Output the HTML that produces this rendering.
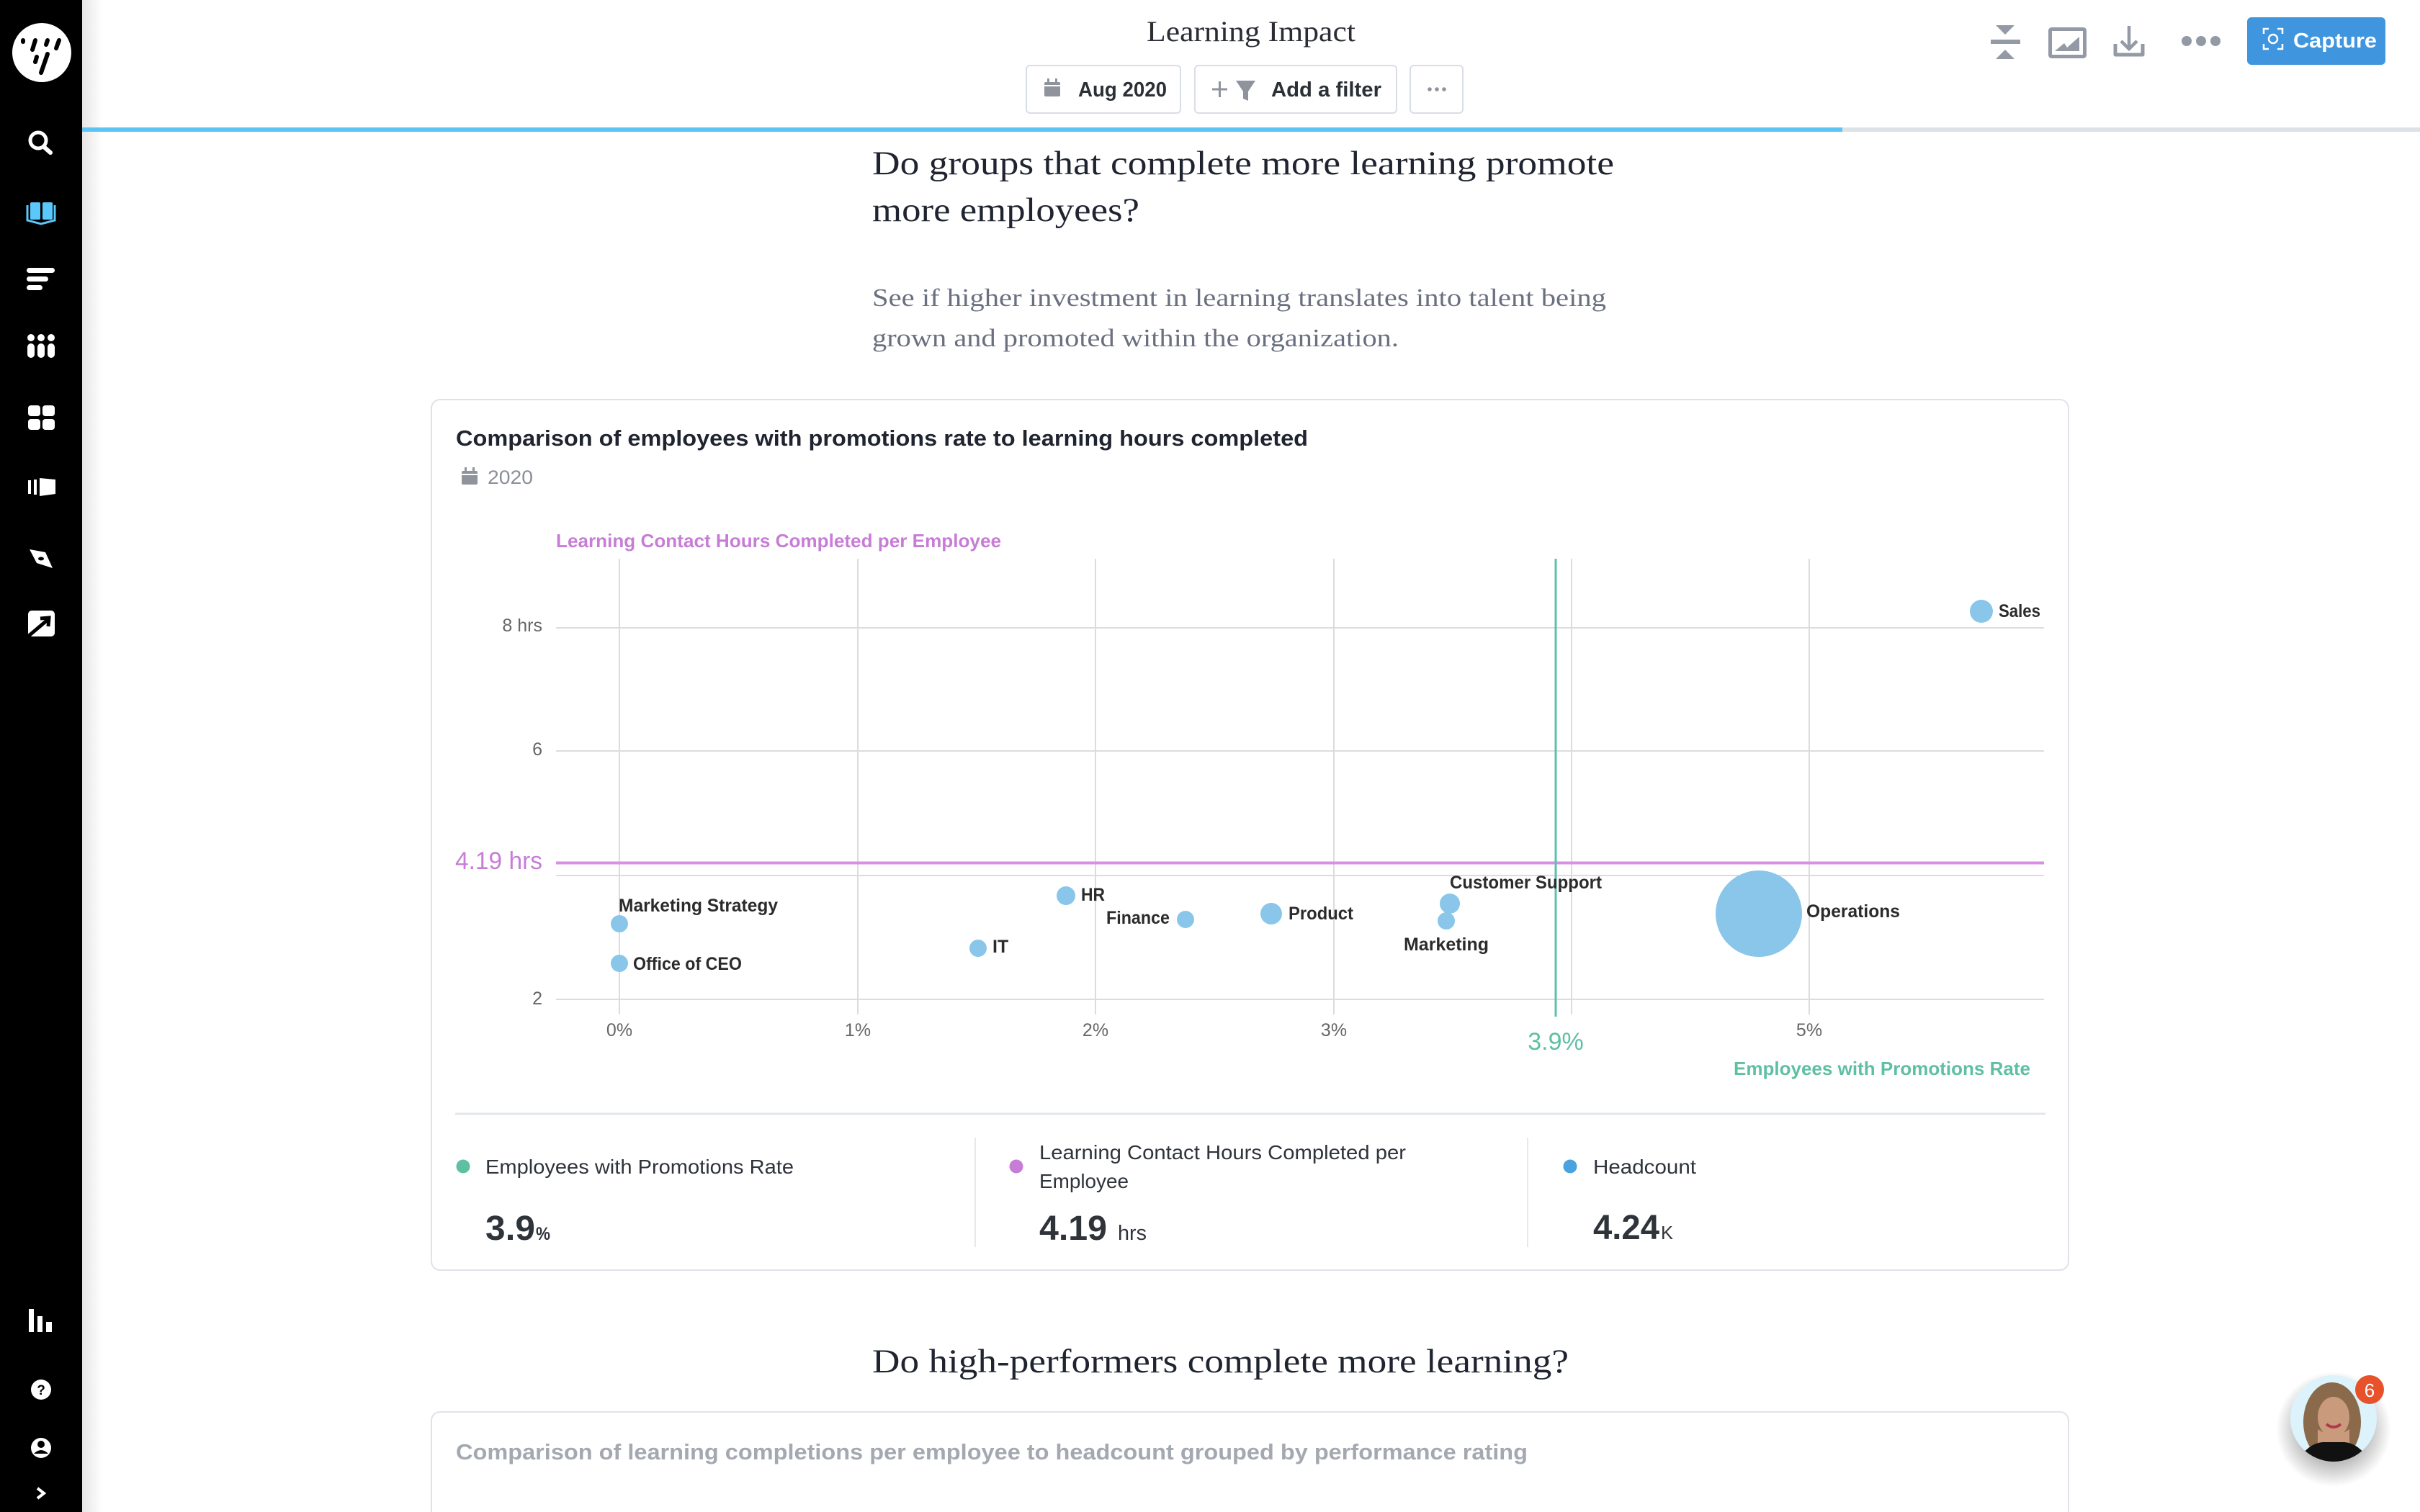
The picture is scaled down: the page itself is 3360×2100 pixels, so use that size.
<!DOCTYPE html>
<html><head><meta charset="utf-8"><style>
html,body{margin:0;padding:0;background:#fff;}
svg{display:block;}
.s{font-family:"Liberation Sans",sans-serif;}
.r{font-family:"Liberation Serif",serif;}
</style></head><body>
<svg width="3360" height="2100" viewBox="0 0 3360 2100" xmlns="http://www.w3.org/2000/svg">
<defs>
<linearGradient id="sh" x1="0" x2="1" y1="0" y2="0"><stop offset="0" stop-color="#000" stop-opacity="0.10"/><stop offset="1" stop-color="#000" stop-opacity="0"/></linearGradient>
<radialGradient id="avsh" cx="0.5" cy="0.5" r="0.5"><stop offset="0.6" stop-color="#000" stop-opacity="0.25"/><stop offset="1" stop-color="#000" stop-opacity="0"/></radialGradient>
<clipPath id="avc"><circle cx="3240" cy="1970" r="60"/></clipPath>
</defs>
<rect width="3360" height="2100" fill="#fff"/>

<!-- sidebar -->
<rect x="0" y="0" width="114" height="2100" fill="#000"/>
<rect x="114" y="0" width="28" height="2100" fill="url(#sh)"/>
<circle cx="58" cy="73" r="41" fill="#fff"/>
<g stroke="#000" stroke-width="6" stroke-linecap="round">
<line x1="32" y1="56" x2="32" y2="58"/>
<line x1="49" y1="56" x2="45" y2="69"/>
<line x1="66" y1="56" x2="64" y2="62"/>
<line x1="82" y1="56" x2="78" y2="67"/>
<line x1="51" y1="79" x2="49" y2="86"/>
<line x1="66" y1="75" x2="57" y2="101"/>
</g>
<!-- search -->
<circle cx="53" cy="195" r="11" fill="none" stroke="#fff" stroke-width="5"/>
<line x1="61" y1="204" x2="70" y2="212" stroke="#fff" stroke-width="6" stroke-linecap="round"/>
<!-- book -->
<g fill="#5ac8fa"><rect x="42" y="281" width="14" height="24" rx="2"/><rect x="59" y="281" width="14" height="24" rx="2"/></g>
<path d="M38 285 V306 L57 311 L76 306 V285" fill="none" stroke="#5ac8fa" stroke-width="3"/>
<!-- lines -->
<g fill="#fff"><rect x="37" y="372" width="39" height="7" rx="3.5"/><rect x="37" y="384" width="30" height="7" rx="3.5"/><rect x="37" y="396" width="22" height="7" rx="3.5"/></g>
<!-- dots -->
<g fill="#fff"><circle cx="43" cy="469" r="5"/><circle cx="57" cy="469" r="5"/><circle cx="71" cy="469" r="5"/>
<rect x="38" y="477" width="10" height="20" rx="5"/><rect x="52" y="477" width="10" height="20" rx="5"/><rect x="66" y="477" width="10" height="20" rx="5"/></g>
<!-- grid -->
<g fill="#fff"><rect x="39" y="563" width="17" height="15" rx="4"/><rect x="59" y="563" width="17" height="15" rx="4"/><rect x="39" y="582" width="17" height="15" rx="4"/><rect x="59" y="582" width="17" height="15" rx="4"/></g>
<!-- panel -->
<g fill="#fff"><rect x="39" y="667" width="4" height="19"/><rect x="47" y="666" width="4" height="21"/><path d="M55 664 L77 666 V686 L55 689 Z"/></g>
<!-- pen -->
<path d="M41 763 L63 767 L73 789 L51 782 Z" fill="#fff"/><ellipse cx="57" cy="776" rx="4" ry="2.5" fill="#000"/>
<!-- arrow box -->
<rect x="39" y="848" width="37" height="36" rx="5" fill="#fff"/>
<path d="M40 883 L66 861 M56 859 L68 858 L67 870" stroke="#000" stroke-width="5" fill="none"/>
<!-- bottom icons -->
<g fill="#fff"><rect x="40" y="1818" width="7" height="32"/><rect x="52" y="1828" width="7" height="22"/><rect x="64" y="1836" width="8" height="14"/></g>
<circle cx="57" cy="1930" r="14" fill="#fff"/><text x="57" y="1937" text-anchor="middle" class="s" font-size="19" font-weight="700" fill="#000">?</text>
<circle cx="57" cy="2011" r="14" fill="#fff"/><circle cx="57" cy="2006" r="5" fill="#000"/><path d="M47 2019 Q57 2009 67 2019 Z" fill="#000"/>
<path d="M52 2067 L61 2074 L52 2081" stroke="#fff" stroke-width="4" fill="none"/>

<!-- header -->
<text x="1592" y="57" class="r" font-size="40" fill="#2a2d33" textLength="290" lengthAdjust="spacingAndGlyphs">Learning Impact</text>
<rect x="1425" y="91" width="214" height="66" rx="5" fill="#fff" stroke="#d9dee5" stroke-width="2"/>
<g fill="#8e939c"><rect x="1450" y="114" width="22" height="20" rx="2"/><rect x="1454" y="109" width="3" height="6"/><rect x="1465" y="109" width="3" height="6"/></g>
<rect x="1450" y="118" width="22" height="2" fill="#fff"/>
<text x="1497" y="134" class="s" font-size="29" font-weight="700" fill="#2b2f36" textLength="123" lengthAdjust="spacingAndGlyphs">Aug 2020</text>
<rect x="1659" y="91" width="280" height="66" rx="5" fill="#fff" stroke="#d9dee5" stroke-width="2"/>
<path d="M1683 124 H1704 M1693.5 113 V135" stroke="#8e939c" stroke-width="3"/>
<path d="M1716 112 H1743 L1733 127 V140 L1726 137 V127 Z" fill="#8e939c"/>
<text x="1765" y="134" class="s" font-size="29" font-weight="700" fill="#2b2f36" textLength="153" lengthAdjust="spacingAndGlyphs">Add a filter</text>
<rect x="1958" y="91" width="73" height="66" rx="5" fill="#fff" stroke="#d9dee5" stroke-width="2"/>
<g fill="#8e939c"><circle cx="1985" cy="124" r="2.8"/><circle cx="1995" cy="124" r="2.8"/><circle cx="2005" cy="124" r="2.8"/></g>

<!-- right icons -->
<g fill="#939aa5">
<path d="M2771 35 H2797 L2784 48 Z"/><rect x="2764" y="55" width="41" height="6"/><path d="M2771 82 H2797 L2784 69 Z"/>
</g>
<rect x="2846.5" y="40.5" width="48" height="38" rx="2" fill="none" stroke="#939aa5" stroke-width="5"/>
<path d="M2853 71 L2866 60 L2870 66 L2887 51 V71 Z" fill="#939aa5"/>
<path d="M2937 61 V76 H2975 V61" fill="none" stroke="#939aa5" stroke-width="5" stroke-linejoin="round"/>
<path d="M2956 36 V68 M2945 57 L2956 68 L2967 57" fill="none" stroke="#939aa5" stroke-width="4.5"/>
<g fill="#939aa5"><circle cx="3036" cy="57" r="7"/><circle cx="3056" cy="57" r="7"/><circle cx="3076" cy="57" r="7"/></g>
<rect x="3120" y="24" width="192" height="66" rx="6" fill="#3f95de"/>
<path d="M3143 47 V40 H3150 M3162 40 H3169 V47 M3169 61 V68 H3162 M3150 68 H3143 V61" fill="none" stroke="#fff" stroke-width="2.5"/>
<circle cx="3156" cy="54" r="6" fill="none" stroke="#fff" stroke-width="2.5"/>
<text x="3184" y="66" class="s" font-size="29" font-weight="700" fill="#fff" textLength="116" lengthAdjust="spacingAndGlyphs">Capture</text>

<!-- progress -->
<rect x="114" y="177" width="3246" height="6" fill="#dde2e8"/>
<rect x="114" y="177" width="2444" height="6" fill="#5bc4f5"/>

<!-- heading -->
<text x="1211" y="242" class="r" font-size="47" fill="#1f2430" textLength="1030" lengthAdjust="spacingAndGlyphs">Do groups that complete more learning promote</text>
<text x="1211" y="307" class="r" font-size="47" fill="#1f2430" textLength="371" lengthAdjust="spacingAndGlyphs">more employees?</text>
<text x="1211" y="425" class="r" font-size="35" fill="#6b7080" textLength="1019" lengthAdjust="spacingAndGlyphs">See if higher investment in learning translates into talent being</text>
<text x="1211" y="481" class="r" font-size="35" fill="#6b7080" textLength="731" lengthAdjust="spacingAndGlyphs">grown and promoted within the organization.</text>

<!-- card -->
<rect x="599" y="555" width="2273" height="1209" rx="12" fill="#fff" stroke="#dfe3e9" stroke-width="2"/>
<text x="633" y="619" class="s" font-size="31" font-weight="700" fill="#1f2430" textLength="1183" lengthAdjust="spacingAndGlyphs">Comparison of employees with promotions rate to learning hours completed</text>
<g fill="#8e939c"><rect x="641" y="654" width="22" height="19" rx="2"/><rect x="645" y="649" width="3" height="6"/><rect x="656" y="649" width="3" height="6"/></g>
<rect x="641" y="658" width="22" height="2" fill="#fff"/>
<text x="677" y="672" class="s" font-size="27" fill="#8a8f99" textLength="63" lengthAdjust="spacingAndGlyphs">2020</text>

<!-- chart -->
<text x="772" y="760" class="s" font-size="26" font-weight="700" fill="#c77dd6" textLength="618" lengthAdjust="spacingAndGlyphs">Learning Contact Hours Completed per Employee</text>
<g stroke="#dcdcdc" stroke-width="2">
<line x1="772" y1="872" x2="2838" y2="872"/>
<line x1="772" y1="1043" x2="2838" y2="1043"/>
<line x1="772" y1="1216" x2="2838" y2="1216"/>
<line x1="772" y1="1388" x2="2838" y2="1388"/>
<line x1="860" y1="776" x2="860" y2="1409"/>
<line x1="1191" y1="776" x2="1191" y2="1409"/>
<line x1="1521" y1="776" x2="1521" y2="1409"/>
<line x1="1852" y1="776" x2="1852" y2="1409"/>
<line x1="2182" y1="776" x2="2182" y2="1409"/>
<line x1="2512" y1="776" x2="2512" y2="1409"/>
</g>
<g class="s" font-size="25" fill="#666" text-anchor="end">
<text x="753" y="877">8 hrs</text>
<text x="753" y="1049">6</text>
<text x="753" y="1395">2</text>
</g>
<g class="s" font-size="25" fill="#666" text-anchor="middle">
<text x="860" y="1439">0%</text>
<text x="1191" y="1439">1%</text>
<text x="1521" y="1439">2%</text>
<text x="1852" y="1439">3%</text>
<text x="2512" y="1439">5%</text>
</g>
<line x1="772" y1="1198.5" x2="2838" y2="1198.5" stroke="#d98fe5" stroke-width="4"/>
<text x="753" y="1207" class="s" font-size="34" fill="#c77dd6" text-anchor="end" textLength="121" lengthAdjust="spacingAndGlyphs">4.19 hrs</text>
<line x1="2160" y1="776" x2="2160" y2="1412" stroke="#5cc0ac" stroke-width="3"/>
<text x="2160" y="1458" class="s" font-size="34" fill="#5fbfa3" text-anchor="middle">3.9%</text>
<text x="2407" y="1493" class="s" font-size="26" font-weight="700" fill="#5fbfa3" textLength="412" lengthAdjust="spacingAndGlyphs">Employees with Promotions Rate</text>

<g fill="#89c6ea">
<circle cx="860" cy="1283" r="12"/>
<circle cx="860" cy="1338" r="12"/>
<circle cx="1358" cy="1317" r="12"/>
<circle cx="1480" cy="1244" r="13"/>
<circle cx="1646" cy="1277" r="12"/>
<circle cx="1765" cy="1269" r="15"/>
<circle cx="2013" cy="1255" r="14"/>
<circle cx="2008" cy="1279" r="12"/>
<circle cx="2442" cy="1269" r="60"/>
<circle cx="2751" cy="849" r="16"/>
</g>
<g class="s" font-size="25" font-weight="700" fill="#2b2b2b">
<text x="859" y="1266" textLength="221" lengthAdjust="spacingAndGlyphs">Marketing Strategy</text>
<text x="879" y="1347" textLength="151" lengthAdjust="spacingAndGlyphs">Office of CEO</text>
<text x="1378" y="1323">IT</text>
<text x="1501" y="1251" textLength="33" lengthAdjust="spacingAndGlyphs">HR</text>
<text x="1624" y="1283" text-anchor="end" textLength="88" lengthAdjust="spacingAndGlyphs">Finance</text>
<text x="1789" y="1277" textLength="90" lengthAdjust="spacingAndGlyphs">Product</text>
<text x="2013" y="1234" textLength="211" lengthAdjust="spacingAndGlyphs">Customer Support</text>
<text x="1949" y="1320" textLength="118" lengthAdjust="spacingAndGlyphs">Marketing</text>
<text x="2508" y="1274" textLength="130" lengthAdjust="spacingAndGlyphs">Operations</text>
<text x="2775" y="857" textLength="58" lengthAdjust="spacingAndGlyphs">Sales</text>
</g>

<!-- KPI -->
<line x1="632" y1="1547" x2="2840" y2="1547" stroke="#e3e7ec" stroke-width="3"/>
<line x1="1354" y1="1580" x2="1354" y2="1732" stroke="#e6e8ec" stroke-width="2"/>
<line x1="2121" y1="1580" x2="2121" y2="1732" stroke="#e6e8ec" stroke-width="2"/>
<circle cx="643" cy="1620" r="9.5" fill="#5fbfa3"/>
<circle cx="1411" cy="1620" r="9.5" fill="#c77dd6"/>
<circle cx="2180" cy="1620" r="9.5" fill="#4aa3df"/>
<g class="s" font-size="28" fill="#2f333a">
<text x="674" y="1630" textLength="428" lengthAdjust="spacingAndGlyphs">Employees with Promotions Rate</text>
<text x="1443" y="1610" textLength="509" lengthAdjust="spacingAndGlyphs">Learning Contact Hours Completed per</text>
<text x="1443" y="1650" textLength="124" lengthAdjust="spacingAndGlyphs">Employee</text>
<text x="2212" y="1630" textLength="143" lengthAdjust="spacingAndGlyphs">Headcount</text>
</g>
<g class="s" font-weight="700" fill="#2f333a">
<text x="674" y="1722" font-size="48" textLength="69" lengthAdjust="spacingAndGlyphs">3.9</text>
<text x="744" y="1722" font-size="25" textLength="20" lengthAdjust="spacingAndGlyphs">%</text>
<text x="1443" y="1722" font-size="48" textLength="94" lengthAdjust="spacingAndGlyphs">4.19</text>
<text x="1552" y="1722" font-size="29" font-weight="400" textLength="40" lengthAdjust="spacingAndGlyphs">hrs</text>
<text x="2212" y="1721" font-size="48" textLength="92" lengthAdjust="spacingAndGlyphs">4.24</text>
<text x="2306" y="1721" font-size="26" font-weight="400" textLength="17" lengthAdjust="spacingAndGlyphs">K</text>
</g>

<!-- second section -->
<text x="1211" y="1906" class="r" font-size="47" fill="#1f2430" textLength="967" lengthAdjust="spacingAndGlyphs">Do high-performers complete more learning?</text>
<rect x="599" y="1961" width="2273" height="220" rx="12" fill="#fff" stroke="#dfe3e9" stroke-width="2"/>
<text x="633" y="2027" class="s" font-size="31" font-weight="700" fill="#a4a8b0" textLength="1488" lengthAdjust="spacingAndGlyphs">Comparison of learning completions per employee to headcount grouped by performance rating</text>

<!-- avatar -->
<circle cx="3240" cy="1985" r="80" fill="url(#avsh)"/>
<circle cx="3240" cy="1970" r="60" fill="#dcf3fb"/>
<g clip-path="url(#avc)">
<ellipse cx="3238" cy="1975" rx="40" ry="55" fill="#8a6a4a"/>
<ellipse cx="3240" cy="1968" rx="22" ry="28" fill="#c99a7c"/>
<path d="M3218 1985 Q3240 2000 3262 1985 L3262 2005 L3218 2005 Z" fill="#c99a7c"/>
<path d="M3230 1978 Q3240 1986 3250 1978" stroke="#b03a4a" stroke-width="4" fill="none"/>
<path d="M3185 2040 Q3200 2005 3225 2003 L3255 2003 Q3280 2005 3295 2040 Z" fill="#111"/>
</g>
<circle cx="3290" cy="1930" r="20" fill="#e8522b"/>
<text x="3290" y="1940" class="s" font-size="26" fill="#fff" text-anchor="middle">6</text>
</svg>
</body></html>
